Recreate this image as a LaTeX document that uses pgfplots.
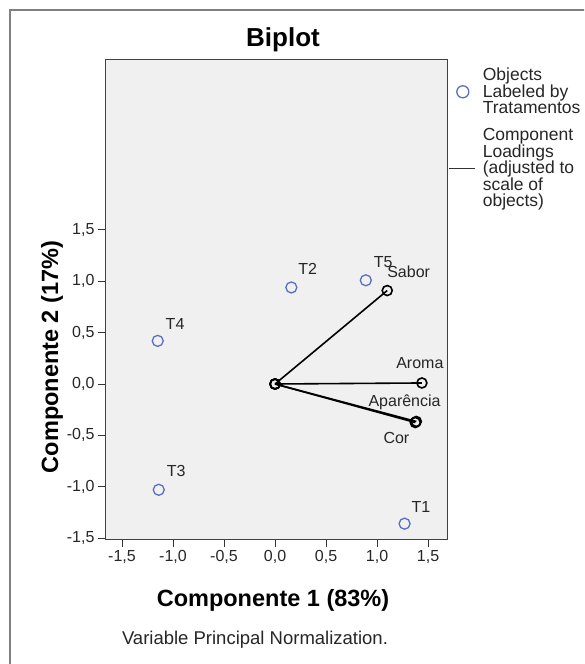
\documentclass[border=0pt]{standalone}
\usepackage{fontspec}
\setmainfont{Liberation Sans}
\usepackage{pgfplots}
\pgfplotsset{compat=1.18}
\definecolor{objblue}{HTML}{5A6FC4}
\definecolor{plotbg}{HTML}{F0F0F0}
\definecolor{framegray}{HTML}{808080}
\begin{document}
\begin{tikzpicture}[x=1pt,y=1pt]
\useasboundingbox (0,0) rectangle (584,664);
\begin{scope}
\clip (0,0) rectangle (584,664);
\draw[framegray, line width=2pt] (10,-10) -- (10,654) -- (600,654);
\end{scope}
\node[font=\fontsize{26}{26}\selectfont\bfseries] at (283,624) {Biplot};
\node[font=\fontsize{23.5}{23.5}\selectfont\bfseries, rotate=90] at (52,307) {Componente 2 (17\%)};
\node[font=\fontsize{23.5}{23.5}\selectfont\bfseries] at (273,64) {Componente 1 (83\%)};
\node[font=\fontsize{18.5}{18.5}\selectfont, text=black!85] at (255,24) {Variable Principal Normalization.};
\begin{axis}[
  at={(105pt,124pt)}, anchor=south west,
  scale only axis, width=342pt, height=480pt,
  xmin=-1.667, xmax=1.686, ymin=-1.519, ymax=3.155,
  axis background/.style={fill=plotbg},
  axis line style={draw=black!75, line width=1pt},
  xtick={-1.5,-1,-0.5,0,0.5,1,1.5},
  xticklabels={{-1,5},{-1,0},{-0,5},{0,0},{0,5},{1,0},{1,5}},
  ytick={-1.5,-1,-0.5,0,0.5,1,1.5},
  yticklabels={{-1,5},{-1,0},{-0,5},{0,0},{0,5},{1,0},{1,5}},
  tick align=outside, tick pos=left,
  major tick length=7pt,
  tick style={black!80, line width=1pt},
  ticklabel style={font=\fontsize{16}{16}\selectfont, text=black!85},
  clip=false,
  legend cell align=left,
  legend style={at={(rel axis cs:1,1)}, anchor=north west, draw=none, fill=none,
    xshift=1pt, yshift=-6pt, inner sep=0pt, row sep=9pt,
    font=\fontsize{17.5}{16.5}\selectfont, cells={align=left, text=black!85}},
]
\addplot[only marks, mark=o, mark size=5.5pt, objblue, mark options={line width=1.3pt},
  legend image code/.code={\path[draw=none] (0pt,0pt) -- (32pt,0pt);
    \draw[objblue, line width=1.3pt] (14pt,0pt) circle (6pt);}]
  table {
x y
1.27 -1.36
0.16 0.94
-1.14 -1.03
-1.15 0.42
0.89 1.01
};
\addlegendentry{Objects\\Labeled by\\Tratamentos}
\addplot[black, line width=1.6pt, mark=o, mark size=5pt, mark options={line width=1.6pt},
  legend image code/.code={\path[draw=none] (0pt,0pt) -- (32pt,0pt);
    \draw[black!80, line width=1.2pt] (0pt,0pt) -- (26pt,0pt);}]
  coordinates {(0,0) (1.10,0.91)};
\addlegendentry{Component\\Loadings\\(adjusted to\\scale of\\objects)}
\addplot[black, line width=1.6pt, mark=o, mark size=5pt, mark options={line width=1.6pt}, forget plot]
  coordinates {(0,0) (1.44,0.01)};
\addplot[black, line width=1.6pt, mark=o, mark size=5pt, mark options={line width=1.6pt}, forget plot]
  coordinates {(0,0) (1.385,-0.365)};
\addplot[black, line width=1.6pt, mark=o, mark size=5pt, mark options={line width=1.6pt}, forget plot]
  coordinates {(0,0) (1.375,-0.375)};
\begin{scope}[every node/.style={font=\fontsize{16}{16}\selectfont, text=black!85}]
\node at (axis cs:1.43,-1.20) {T1};
\node at (axis cs:0.32,1.12) {T2};
\node at (axis cs:-0.97,-0.85) {T3};
\node at (axis cs:-0.98,0.58) {T4};
\node at (axis cs:1.06,1.19) {T5};
\node at (axis cs:1.31,1.09) {Sabor};
\node at (axis cs:1.42,0.20) {Aroma};
\node at (axis cs:1.27,-0.18) {Aparência};
\node at (axis cs:1.19,-0.53) {Cor};
\end{scope}
\end{axis}
\end{tikzpicture}
\end{document}
